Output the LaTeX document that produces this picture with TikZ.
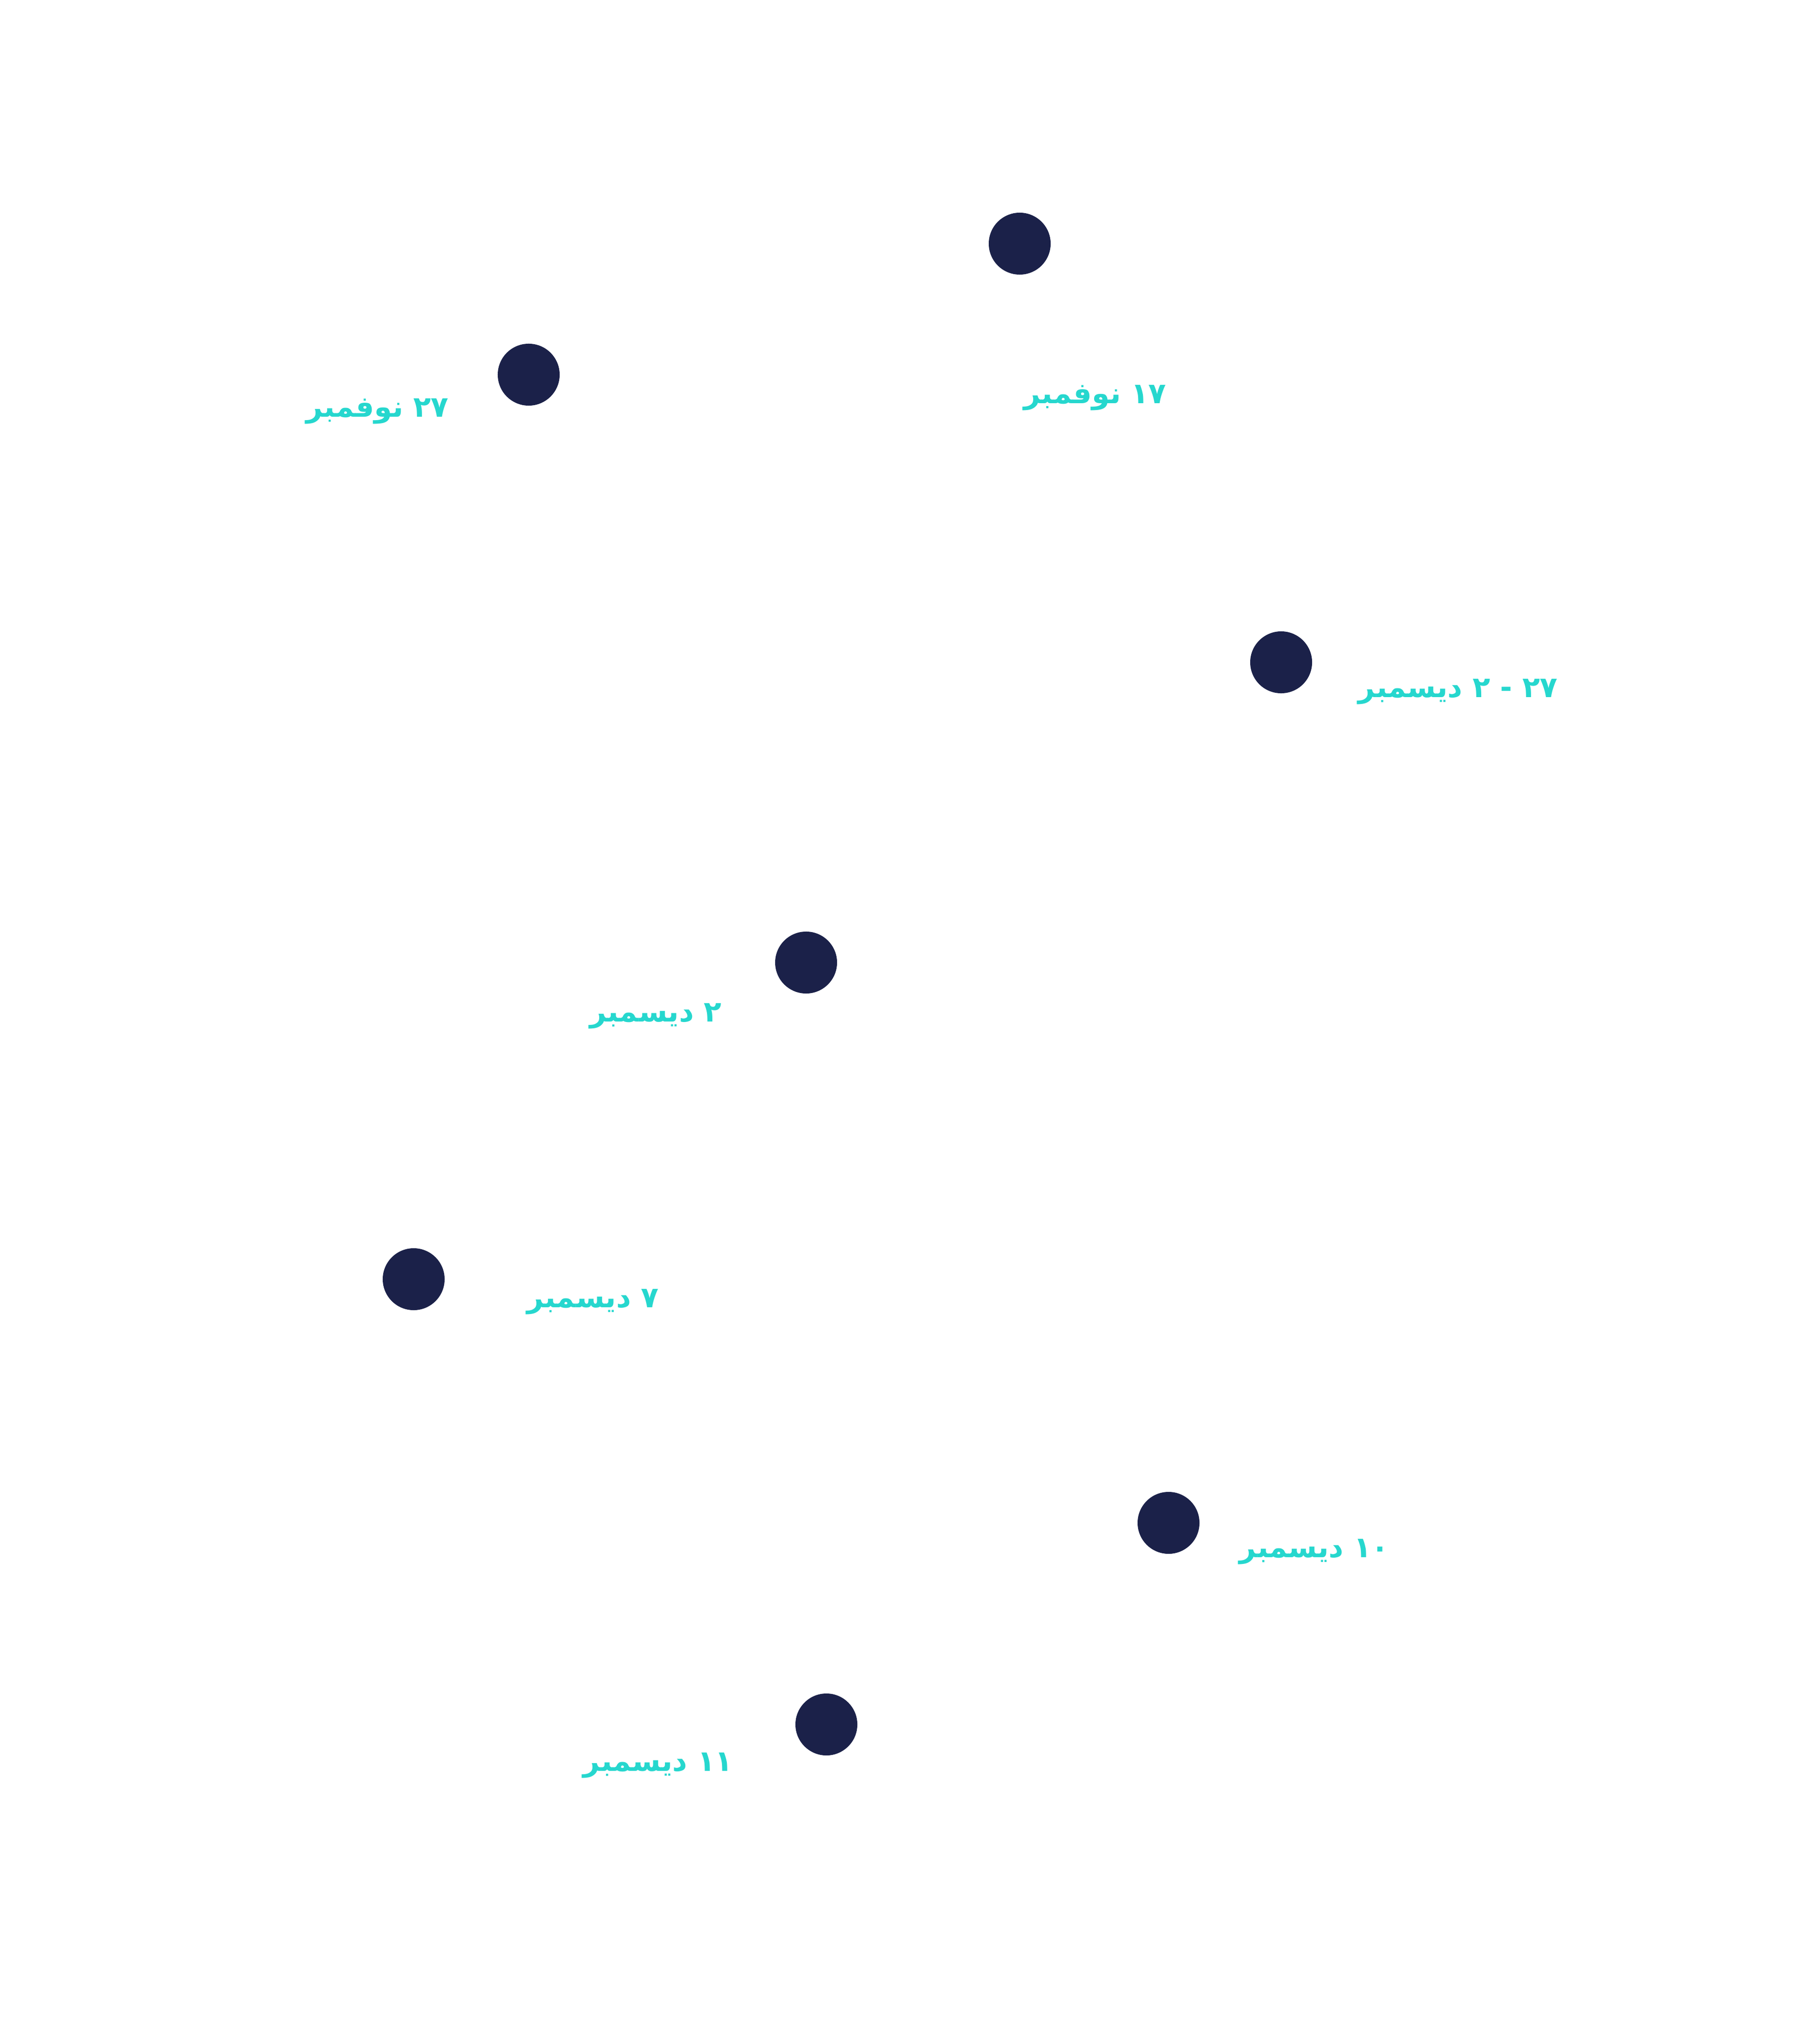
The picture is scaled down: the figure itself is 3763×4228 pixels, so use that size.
\documentclass[tikz,border=0pt]{standalone}
\usepackage{fontspec}
\usepackage{tikz}
\TeXXeTstate=1
\newfontfamily\arabicfont[Script=Arabic]{DejaVu Sans}
\definecolor{navy}{HTML}{1B2149}
\definecolor{teal}{HTML}{26D7CE}

\begin{document}
\begin{tikzpicture}[x=0.01cm,y=-0.01cm,
    milestone/.style={circle, fill=navy, inner sep=0pt, minimum size=1.28cm},
    when/.style={anchor=base east, inner sep=0pt, text=teal, font=\arabicfont\bfseries\fontsize{17}{20}\selectfont}]
    \useasboundingbox (0,0) rectangle (3763,4228);
    \node[milestone] (nov17) at (2110, 504)  {};
    \node[milestone] (nov27) at (1094, 775)  {};
    \node[milestone] (dec27) at (2651, 1370) {};
    \node[milestone] (dec2)  at (1668, 1991) {};
    \node[milestone] (dec7)  at (856, 2646)  {};
    \node[milestone] (dec10) at (2418, 3150) {};
    \node[milestone] (dec11) at (1710, 3567) {};
    \node[when] (nov17txt) at (2414, 835)  {\beginR ١٧ نوفمبر\endR};
    \node[when] (nov27txt) at (929, 863)   {\beginR ٢٧ نوفمبر\endR};
    \node[when] (dec27txt) at (3224, 1442) {\beginR ٢٧ - ٢ ديسمبر\endR};
    \node[when] (dec2txt)  at (1494, 2113) {\beginR ٢ ديسمبر\endR};
    \node[when] (dec7txt)  at (1364, 2704) {\beginR ٧ ديسمبر\endR};
    \node[when] (dec10txt) at (2875, 3221) {\beginR ١٠ ديسمبر\endR};
    \node[when] (dec11txt) at (1517, 3663) {\beginR ١١ ديسمبر\endR};
\end{tikzpicture}
\end{document}
